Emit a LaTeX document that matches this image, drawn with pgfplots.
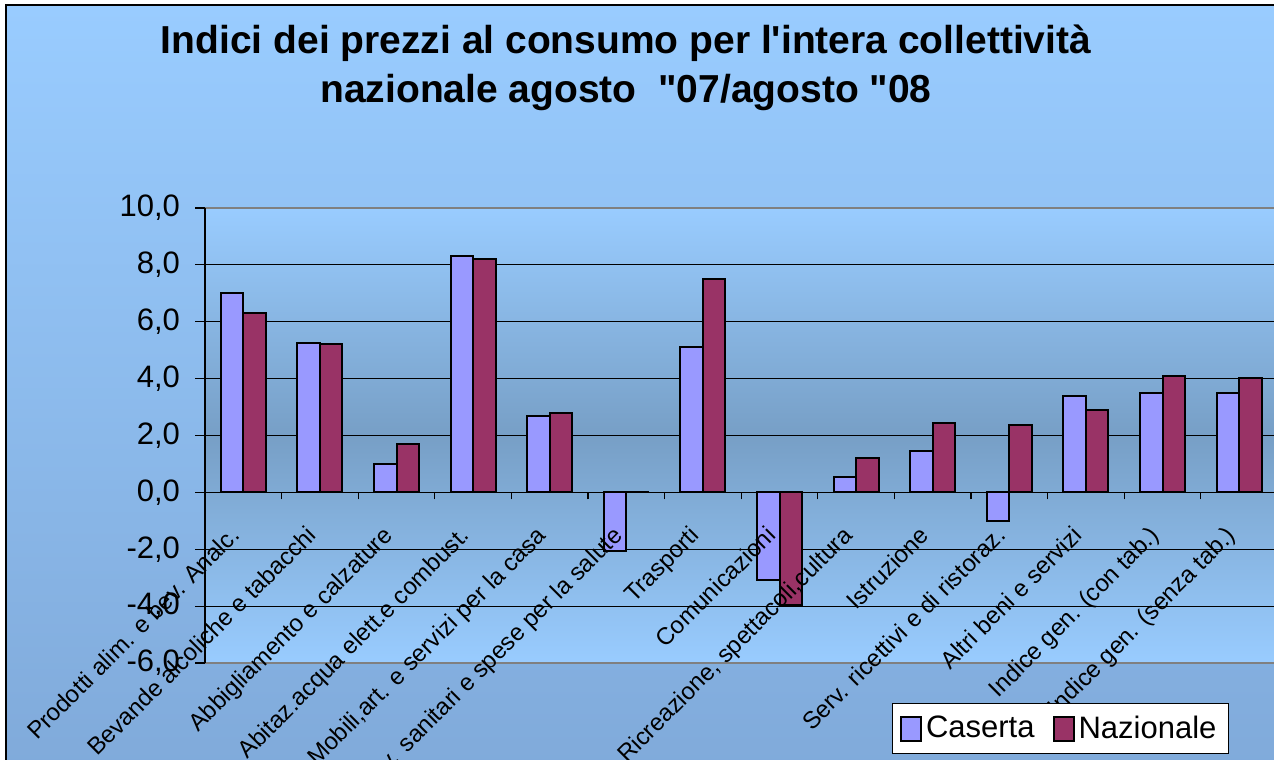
\documentclass[border=0pt]{standalone}
\usepackage{fontspec}
\setmainfont{Liberation Sans}[Ligatures=TeXOff]
\usepackage{pgfplots}
\pgfplotsset{compat=1.18}
\definecolor{caserta}{HTML}{9999FF}
\definecolor{nazionale}{HTML}{993366}
\definecolor{bgtop}{HTML}{99CCFF}
\definecolor{bgbot}{HTML}{80AADA}
\definecolor{patop}{HTML}{99CCFF}
\definecolor{pamid}{HTML}{779FC6}
\definecolor{paborder}{HTML}{808080}
\pgfplotsset{sqlegend/.style={legend image code/.code={\draw[##1, line width=1pt] (0pt,-6pt) rectangle (10pt,6pt);}}}

\pgfplotstableread{
cat C N
0 7.0 6.3
1 5.25 5.2
2 1.0 1.7
3 8.3 8.2
4 2.7 2.8
5 -2.05 0.0
6 5.1 7.5
7 -3.07 -3.96
8 0.55 1.2
9 1.45 2.44
10 -1.0 2.37
11 3.4 2.9
12 3.48 4.08
13 3.49 4.02
}\datatable

\begin{document}
\begin{tikzpicture}
\useasboundingbox (0,0) rectangle (637pt,380pt);
\clip (0,0) rectangle (637pt,380pt);
\fill[white] (0,0) rectangle (637pt,380pt);
\shade[top color=bgtop, bottom color=bgbot] (3pt,-5pt) rectangle (645pt,377.5pt);
\draw[black, line width=1pt] (3pt,-5pt) -- (3pt,377.5pt) -- (645pt,377.5pt);
\node[font=\fontsize{19.5}{23}\selectfont\bfseries, anchor=base] at (313pt,353pt) {Indici dei prezzi al consumo per l'intera collettività};
\node[font=\fontsize{19.5}{23}\selectfont\bfseries, anchor=base] at (313pt,328.5pt) {nazionale agosto\ \ "07/agosto "08};

\begin{axis}[
  at={(102.5pt,48.5pt)}, anchor=south west,
  scale only axis, width=534.5pt, height=227.5pt,
  xmin=-0.5, xmax=13.455, ymin=-6, ymax=10,
  axis on top,
  axis background/.style={shade, top color=patop, bottom color=patop, middle color=pamid},
  ybar=0pt, bar width=11.25pt,
  axis x line*=middle, axis y line*=left,
  axis line style={black, line width=0.6pt},
  ytick={-6,-4,...,10},
  tick align=outside,
  major tick length=5pt,
  tick style={black, line width=0.6pt},
  /pgf/number format/assume math mode=true,
  yticklabel style={font=\fontsize{15.5}{18}\selectfont, xshift=-4pt, /pgf/number format/.cd, fixed, fixed zerofill, precision=1, use comma},
  xtick={0,1,...,13},
  xticklabels={Prodotti alim. e bev. Analc., Bevande alcoliche e tabacchi, Abbigliamento e calzature, Abitaz.acqua elett.e combust., {Mobili,art. e servizi per la casa}, Serv. sanitari e spese per la salute, Trasporti, Comunicazioni, {Ricreazione, spettacoli,cultura}, Istruzione, Serv. ricettivi e di ristoraz., Altri beni e servizi, Indice gen. (con tab.), Indice gen. (senza tab.)},
  xticklabel style={font=\fontsize{12}{15}\selectfont, rotate=45, anchor=north east, inner sep=0pt, xshift=-13pt, yshift=-2.5pt},
  xtick style={draw=none},
  extra x ticks={-0.5,0.5,...,13.5},
  extra x tick labels={},
  extra x tick style={xtick style={draw=black}, major tick length=3.5pt, xticklabel={}},
  legend columns=2,
  legend style={at={(0.80,-0.144)}, anchor=center, draw=black, fill=white, font=\fontsize{15.5}{18}\selectfont, inner sep=4pt, /tikz/every even column/.append style={column sep=7pt}},
]
\pgfplotsinvokeforeach{-4,-2,2,4,6,8}{
  \draw[black, line width=0.5pt] (axis cs:-0.5,#1) -- (axis cs:13.455,#1);
}
\addplot[fill=caserta, draw=black, line width=1pt, sqlegend] table[x=cat, y=C] {\datatable};
\addlegendentry{Caserta}
\addplot[fill=nazionale, draw=black, line width=1pt, sqlegend] table[x=cat, y=N] {\datatable};
\addlegendentry{Nazionale}
\draw[paborder, line width=1.5pt] (rel axis cs:0,1) -- (rel axis cs:1,1);
\draw[paborder, line width=1.5pt] (rel axis cs:0,0) -- (rel axis cs:1,0);
\end{axis}
\end{tikzpicture}
\end{document}
